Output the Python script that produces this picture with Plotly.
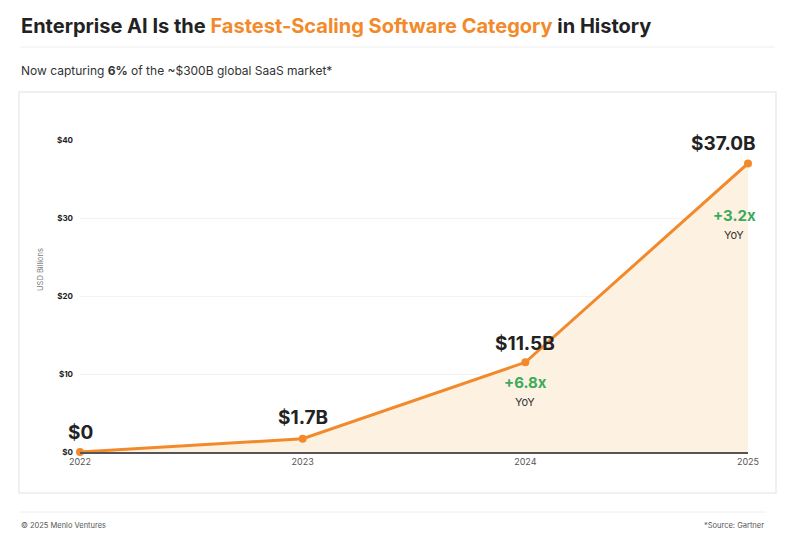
import plotly.graph_objects as go

# data
years = [2022, 2023, 2024, 2025]
spend = [0, 1.7, 11.5, 37.0]
value_labels = ["$0", "$1.7B", "$11.5B", "$37.0B"]
growth_labels = ["", "", "+6.8x", "+3.2x"]
y_ticks = [0, 10, 20, 30, 40]
y_tick_text = ["$0", "$10", "$20", "$30", "$40"]

ORANGE = "#F28A2B"
GREEN = "#3BAA5A"
DARK = "#222222"
FONT = "Inter"

# page has an 8px body margin, so target pixels are shifted by OFF
OFF = 8
W, H = 784, 535
L, T = 80 - OFF, 140 - OFF
R = W - (748 - OFF)
B = H - (452 - OFF)
PW, PH = W - L - R, H - T - B


def px(x):
    return (x - OFF - L) / PW


def py(y):
    return (H - B - (y - OFF)) / PH


fig = go.Figure()
fig.add_trace(go.Scatter(
    x=years, y=spend, mode="lines+markers",
    line=dict(color=ORANGE, width=3),
    marker=dict(color=ORANGE, size=8),
    fill="tozeroy", fillcolor="rgba(253,240,224,0.95)",
    cliponaxis=False, hoverinfo="skip", showlegend=False,
))

# value labels above each point
shifts = [(0, 20), (0, 21), (0, 19), (-25, 20)]
for x, y, t, (dx, dy) in zip(years, spend, value_labels, shifts):
    fig.add_annotation(x=x, y=y, text=f"<b>{t}</b>", showarrow=False,
                       xshift=dx, yshift=dy,
                       font=dict(family=FONT, size=19, color=DARK))

# YoY growth labels
gshifts = [None, None, (0, -20), (-14, -52)]
for x, y, g, s in zip(years, spend, growth_labels, gshifts):
    if not g:
        continue
    fig.add_annotation(x=x, y=y, text=f"<b>{g}</b>", showarrow=False,
                       xshift=s[0], yshift=s[1],
                       font=dict(family=FONT, size=15, color=GREEN))
    fig.add_annotation(x=x, y=y, text="YoY", showarrow=False,
                       xshift=s[0], yshift=s[1] - 20,
                       font=dict(family=FONT, size=11, color="#333333"))


def note(x, y, text, size, color, xanchor="left", angle=0):
    fig.add_annotation(x=px(x), y=py(y), xref="paper", yref="paper",
                       xanchor=xanchor, yanchor="middle", textangle=angle,
                       text=text, showarrow=False,
                       font=dict(family=FONT, size=size, color=color))


# title, subtitle, footer
note(19, 26, "<b>Enterprise AI Is the <span style='color:#F28A2B'>Fastest-Scaling Software Category</span> in History</b>",
     20, DARK)
note(19, 71, "Now capturing <b>6%</b> of the ~$300B global SaaS market*", 12, "#333333")
note(40, 270, "USD Billions", 7.5, "#777777", xanchor="center", angle=-90)
note(19, 525, "© 2025 Menlo Ventures", 7.5, "#555555")
note(766, 525, "*Source: Gartner", 7.5, "#555555", xanchor="right")

# separators and chart box
fig.add_shape(type="line", xref="paper", yref="paper", x0=px(20), x1=px(775), y0=py(47), y1=py(47),
              line=dict(color="#EEEEEE", width=1))
fig.add_shape(type="rect", xref="paper", yref="paper", x0=px(19), x1=px(776), y0=py(92), y1=py(493),
              line=dict(color="#EBEBEB", width=1.5), layer="below")
fig.add_shape(type="line", xref="paper", yref="paper", x0=px(20), x1=px(766), y0=py(512), y1=py(512),
              line=dict(color="#EEEEEE", width=1))

fig.update_xaxes(range=[2022, 2025], tickvals=years, ticktext=[str(y) for y in years],
                 showgrid=False, zeroline=False, showline=True, linecolor="#555555", linewidth=1.5,
                 ticks="", tickfont=dict(family=FONT, size=9, color="#555555"))
fig.update_yaxes(range=[0, 40], tickvals=y_ticks, ticktext=y_tick_text,
                 showgrid=True, gridcolor="#F3F3F3", zeroline=False, showline=False,
                 ticks="", ticklabelstandoff=6,
                 tickfont=dict(family=FONT, size=8, color=DARK, weight="bold"))

fig.update_layout(width=W, height=H, margin=dict(l=L, r=R, t=T, b=B),
                  paper_bgcolor="white", plot_bgcolor="white")

fig.write_html("out.html")
